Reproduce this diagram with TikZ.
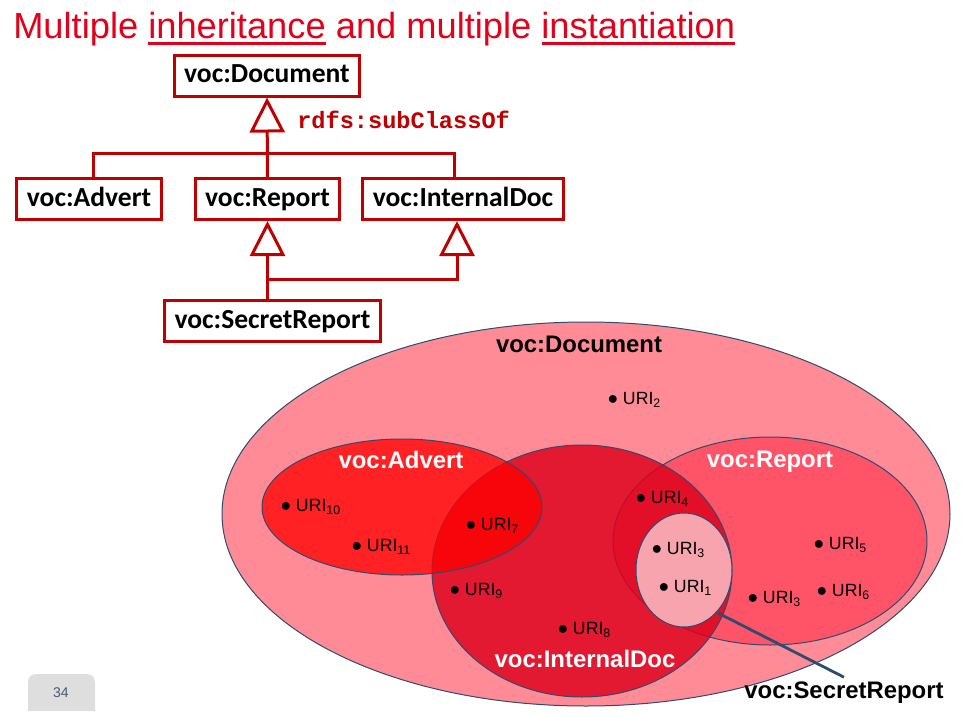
\documentclass[tikz,border=0pt]{standalone}
\usepackage{fontspec}
\setmainfont{Liberation Sans}
\setmonofont{Liberation Mono}
\newfontfamily\carlito{Carlito}
\usepackage{xcolor}
\usepackage{tikz}
\usetikzlibrary{arrows.meta}

\newcommand\thickul[1]{\leavevmode\vtop{\hbox{#1}\kern2.6pt\hrule height 2pt}}
\newcommand\uridot{{\fontsize{15}{15}\selectfont$\bullet$}\hspace{3.6pt}}

\definecolor{titlered}{HTML}{E2001A}
\definecolor{boxred}{HTML}{C00000}
\definecolor{docpink}{HTML}{FF8B97}
\definecolor{reportpink}{HTML}{FF5468}
\definecolor{internalred}{HTML}{DD001C}
\definecolor{secretpink}{HTML}{F8A4AE}
\definecolor{setline}{HTML}{2F4B6E}
\definecolor{pagegray}{HTML}{DEDEDE}
\definecolor{pagetext}{HTML}{4A5A70}

\begin{document}
\begin{tikzpicture}[x=0.25mm, y=-0.25mm,
  cls/.style={draw=boxred, line width=0.75mm, fill=white, inner xsep=2.5mm, text height=13pt, text depth=3pt, minimum height=10.25mm, font=\carlito\bfseries\fontsize{19.6}{22}\selectfont},
  isa/.style={draw=boxred, line width=0.75mm, -{Triangle[open, length=8.75mm, width=8.75mm]}},
  link/.style={draw=boxred, line width=0.75mm},
  set/.style={draw=setline, line width=0.25mm},
  setname/.style={font=\bfseries\fontsize{17}{20}\selectfont},
  uri/.style={anchor=west, inner sep=0pt, font=\fontsize{12.6}{14}\selectfont}]
\useasboundingbox (0,0) rectangle (978,718);

% title
\node[anchor=base west, inner sep=0pt, text=titlered, font=\fontsize{25.8}{30}\selectfont] (title) at (13,38)
  {Multiple \thickul{inheritance} and multiple \thickul{instantiation}};

% class hierarchy
\node[cls] (document) at (267,75.5) {voc:Document};
\node[cls] (advert) at (89,199) {voc:Advert};
\node[cls] (report) at (267.5,199) {voc:Report};
\node[cls] (internal) at (463,199) {voc:InternalDoc};
\node[cls] (secret) at (272.5,321) {voc:SecretReport};
\coordinate (hub) at (267,153);
\coordinate (bar) at (267,279);
\draw[isa] (report) -- (document);
\draw[link] ([xshift=1mm]advert.north) |- (hub) -| ([xshift=-2.25mm]internal.north);
\draw[isa] (report.south |- secret.north) -- (report.south);
\draw[isa] (bar) -| ([xshift=-1.5mm]internal.south);
\node[anchor=base west, inner sep=0pt, text=boxred, font=\ttfamily\bfseries\fontsize{16.8}{18}\selectfont] (subcls) at (297,128) {rdfs:subClassOf};

% instance sets
\draw[set, fill=docpink] (586,514) ellipse (364 and 192);
\draw[set, fill=reportpink] (770,541) ellipse (157 and 104);
\draw[set, fill=internalred, fill opacity=0.82] (582,571) ellipse (150 and 126);
\draw[set, fill=red, fill opacity=0.76] (402,507) ellipse (140 and 68);
\draw[set, fill=secretpink] (684,570) ellipse (48 and 57);

\node[setname] (docname) at (579,344) {voc:Document};
\node[setname, text=white] (advertname) at (401,460) {voc:Advert};
\node[setname, text=white] (reportname) at (770,462) {voc:Report};
\node[setname, text=white] (internalname) at (585,659) {voc:InternalDoc};
\node[setname] (secretname) at (844,693) {voc:SecretReport};

\node[uri] (uri2) at (607.5,400) {\uridot URI\textsubscript{2}};
\node[uri] (uri10) at (280.5,507) {\uridot URI\textsubscript{10}};
\node[uri] (uri11) at (351.5,547) {\uridot URI\textsubscript{11}};
\node[uri] (uri7) at (465.5,526) {\uridot URI\textsubscript{7}};
\node[uri] (uri9) at (449.5,591) {\uridot URI\textsubscript{9}};
\node[uri] (uri8) at (557.5,630) {\uridot URI\textsubscript{8}};
\node[uri] (uri4) at (635.5,499) {\uridot URI\textsubscript{4}};
\node[uri] (uri3a) at (651.5,550) {\uridot URI\textsubscript{3}};
\node[uri] (uri1) at (658.5,588) {\uridot URI\textsubscript{1}};
\node[uri] (uri3b) at (747.5,599) {\uridot URI\textsubscript{3}};
\node[uri] (uri5) at (813.5,545) {\uridot URI\textsubscript{5}};
\node[uri] (uri6) at (816.5,592) {\uridot URI\textsubscript{6}};

\coordinate (secretedge) at (718,613);
\draw[setline, line width=0.7mm] (secretedge) -- (secretname.north);

% page number
\fill[pagegray] (28,711) {[rounded corners=2mm] -- (28,674) -- (95,674)} -- (95,711) -- cycle;
\node[text=pagetext, font=\fontsize{10}{12}\selectfont] (pagenum) at (61,693) {34};
\end{tikzpicture}
\end{document}
